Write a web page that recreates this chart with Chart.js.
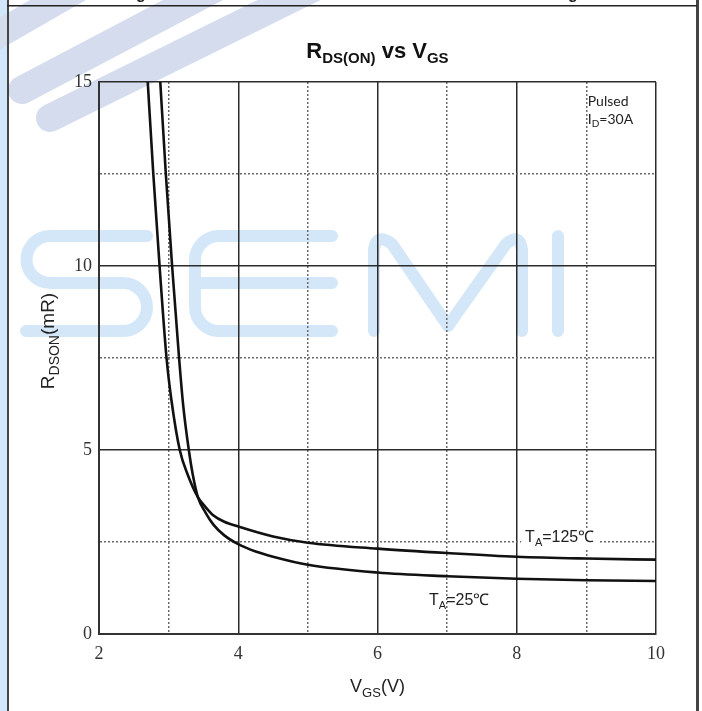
<!DOCTYPE html>
<html>
<head>
<meta charset="utf-8">
<script src="https://cdn.jsdelivr.net/npm/chart.js@4.4.1/dist/chart.umd.min.js"></script>
<style>
  html, body { margin: 0; padding: 0; background: #fff; }
  #wrap { width: 702px; height: 711px; }
</style>
</head>
<body>
<div id="wrap"><canvas id="myChart" width="702" height="711"></canvas></div>
<script>
// values (VGS in volts, RDS(on) in mOhm)
const vgs125 = [2.70, 2.78, 2.87, 2.97, 3.04, 3.16, 3.28, 3.42, 3.53, 3.64, 3.8, 4, 4.5, 5, 6, 7, 8, 9, 10];
const rds125 = [15, 12.5, 10, 7.5, 6.36, 5, 4.3, 3.72, 3.45, 3.23, 3.05, 2.92, 2.65, 2.48, 2.32, 2.2, 2.1, 2.05, 2.02];
const vgs25 = [2.88, 2.96, 3.05, 3.15, 3.21, 3.29, 3.35, 3.42, 3.53, 3.64, 3.8, 4, 4.25, 4.5, 5, 6, 7, 8, 9, 10];
const rds25 = [15, 12.5, 10, 7.5, 6.2, 5, 4.3, 3.72, 3.3, 2.98, 2.68, 2.44, 2.24, 2.1, 1.88, 1.67, 1.57, 1.5, 1.46, 1.44];

const xLabels = [2, 4, 6, 8, 10];
const yLabels = [0, 5, 10, 15];

const sans = '"Liberation Sans", Arial, sans-serif';
const serif = '"Liberation Serif", "Times New Roman", serif';

// text with subscripts: parts = [[text, isSub], ...]
function drawParts(ctx, x, y, parts, opt) {
  const fontFor = sub => (opt.weight || 'normal') + ' ' + (sub ? opt.sub : opt.size) + 'px ' + opt.family;
  let total = 0;
  parts.forEach(p => { ctx.font = fontFor(p[1]); total += ctx.measureText(p[0]).width; });
  let cx = opt.align === 'center' ? x - total / 2 : x;
  if (opt.bg) {
    ctx.fillStyle = '#fff';
    ctx.fillRect(cx - 4, y - opt.size * 0.8, total + 8, opt.size * 1.2);
  }
  ctx.fillStyle = opt.color || '#222';
  ctx.textAlign = 'left';
  ctx.textBaseline = 'alphabetic';
  parts.forEach(p => {
    ctx.font = fontFor(p[1]);
    ctx.fillText(p[0], cx, y + (p[1] ? opt.drop : 0));
    cx += ctx.measureText(p[0]).width;
  });
}

// labels placed in data units
const notes = [
  { parts: [['T', 0], ['A', 1], ['=125℃', 0]], x: 8.12, y: 2.5, bg: true },
  { parts: [['T', 0], ['A', 1], ['=25℃', 0]], x: 6.74, y: 0.79, bg: false }
];

const paper = {
  id: 'paper',
  beforeDraw(chart) {
    const ctx = chart.ctx;
    ctx.save();
    ctx.fillStyle = '#fff';
    ctx.fillRect(0, 0, chart.width, chart.height);
    ctx.fillStyle = '#d2e6f9';
    ctx.fillRect(0, 0, 7, chart.height);

    // diagonal stripes of the watermark
    ctx.strokeStyle = '#d5dcee';
    ctx.lineWidth = 28;
    ctx.lineCap = 'round';
    [[-20, 45, 110, -30], [22, 90, 250, -30], [50, 118, 370, -40]].forEach(s => {
      ctx.beginPath();
      ctx.moveTo(s[0], s[1]);
      ctx.lineTo(s[2], s[3]);
      ctx.stroke();
    });

    // "SEMI" watermark
    ctx.strokeStyle = '#d3e7f9';
    ctx.lineWidth = 12;
    ctx.lineJoin = 'round';
    ctx.beginPath();
    ctx.moveTo(147, 236); ctx.lineTo(50, 236);
    ctx.arc(50, 259.5, 23.5, -Math.PI / 2, Math.PI / 2, true);
    ctx.lineTo(123, 283);
    ctx.arc(123, 307, 24, -Math.PI / 2, Math.PI / 2, false);
    ctx.lineTo(26, 331);
    ctx.stroke();
    ctx.beginPath();
    ctx.moveTo(332, 236); ctx.lineTo(219, 236);
    ctx.arc(219, 260, 24, -Math.PI / 2, Math.PI, true);
    ctx.lineTo(195, 307);
    ctx.arc(219, 307, 24, Math.PI, Math.PI / 2, true);
    ctx.lineTo(332, 331);
    ctx.moveTo(195, 283); ctx.lineTo(332, 283);
    ctx.stroke();
    ctx.beginPath();
    ctx.moveTo(374, 331); ctx.lineTo(374, 250);
    ctx.quadraticCurveTo(376, 232, 392, 244);
    ctx.lineTo(448, 326); ctx.lineTo(506, 244);
    ctx.quadraticCurveTo(520, 232, 522, 250);
    ctx.lineTo(522, 331);
    ctx.moveTo(558, 236); ctx.lineTo(558, 331);
    ctx.stroke();
    ctx.restore();
  },
  afterDraw(chart) {
    const ctx = chart.ctx;
    const a = chart.chartArea;
    const xs = chart.scales.x, ys = chart.scales.y;
    ctx.save();

    // page frame
    ctx.fillStyle = '#444';
    ctx.fillRect(7, 0, 2, chart.height);
    ctx.fillRect(696, 0, 3, chart.height);
    ctx.fillStyle = '#222';
    ctx.fillRect(7, 5, 690, 1.5);
    ctx.font = 'bold 16px ' + sans;
    ctx.fillText('g', 136, -1);
    ctx.fillText('g', 568, -1);

    // title
    drawParts(ctx, (a.left + a.right) / 2, 58,
      [['R', 0], ['DS(ON)', 1], [' vs V', 0], ['GS', 1]],
      { size: 22, sub: 15, drop: 5, weight: 'bold', family: sans, align: 'center', color: '#111' });

    // axis titles
    drawParts(ctx, (a.left + a.right) / 2, 692,
      [['V', 0], ['GS', 1], ['(V)', 0]],
      { size: 18, sub: 13, drop: 5, family: sans, align: 'center', color: '#222' });
    ctx.save();
    ctx.translate(54, 341);
    ctx.rotate(-Math.PI / 2);
    drawParts(ctx, 0, 0, [['R', 0], ['DSON', 1], ['(mR)', 0]],
      { size: 19, sub: 14, drop: 5, family: sans, align: 'center', color: '#222' });
    ctx.restore();

    // curve labels
    notes.forEach(n => {
      drawParts(ctx, xs.getPixelForValue(n.x), ys.getPixelForValue(n.y), n.parts,
        { size: 16, sub: 11, drop: 4, family: sans, bg: n.bg, color: '#222' });
    });

    // test conditions
    const px = xs.getPixelForValue(9.02);
    ctx.fillStyle = '#222';
    ctx.font = '14px Lato, ' + sans;
    ctx.fillText('Pulsed', px, ys.getPixelForValue(14.35));
    drawParts(ctx, px, ys.getPixelForValue(13.86), [['I', 0], ['D', 1], ['=30A', 0]],
      { size: 14, sub: 10, drop: 3, family: 'Lato, ' + sans, color: '#222' });
    ctx.restore();
  }
};

function toPoints(xs, ys) {
  return xs.map((x, i) => ({ x: x, y: ys[i] }));
}

const curveStyle = {
  borderColor: '#111',
  borderWidth: 2.6,
  pointRadius: 0,
  fill: false,
  cubicInterpolationMode: 'monotone'
};

const ctx = document.getElementById('myChart').getContext('2d');
const myChart = new Chart(ctx, {
  type: 'line',
  data: {
    datasets: [
      Object.assign({ label: 'TA=125℃', data: toPoints(vgs125, rds125) }, curveStyle),
      Object.assign({ label: 'TA=25℃', data: toPoints(vgs25, rds25) }, curveStyle)
    ]
  },
  options: {
    responsive: false,
    animation: false,
    devicePixelRatio: 1,
    layout: { padding: { top: 82, right: 46, left: 0, bottom: 0 } },
    plugins: {
      legend: { display: false },
      tooltip: { enabled: false },
      title: { display: false }
    },
    scales: {
      x: {
        type: 'linear',
        min: 2,
        max: 10,
        afterFit: s => { s.height = 77; },
        ticks: {
          stepSize: 1,
          autoSkip: false,
          maxRotation: 0,
          padding: 9,
          color: '#333',
          font: { family: serif, size: 18 },
          callback: v => xLabels.includes(v) ? String(v) : ''
        },
        grid: {
          drawTicks: false,
          lineWidth: 1.5,
          color: c => (c.tick && !xLabels.includes(c.tick.value)) ? '#6a6a6a' : '#2b2b2b'
        },
        border: {
          color: '#333',
          width: 2,
          dash: c => (c.tick && !xLabels.includes(c.tick.value)) ? [2, 2] : []
        }
      },
      y: {
        type: 'linear',
        min: 0,
        max: 15,
        afterFit: s => { s.width = 99; },
        ticks: {
          stepSize: 2.5,
          autoSkip: false,
          padding: 7,
          color: '#333',
          font: { family: serif, size: 18 },
          callback: v => yLabels.includes(v) ? String(v) : ''
        },
        grid: {
          drawTicks: false,
          lineWidth: 1.5,
          color: c => (c.tick && !yLabels.includes(c.tick.value)) ? '#6a6a6a' : '#2b2b2b'
        },
        border: {
          color: '#333',
          width: 2,
          dash: c => (c.tick && !yLabels.includes(c.tick.value)) ? [2, 2] : []
        }
      }
    }
  },
  plugins: [paper]
});
</script>
</body>
</html>
